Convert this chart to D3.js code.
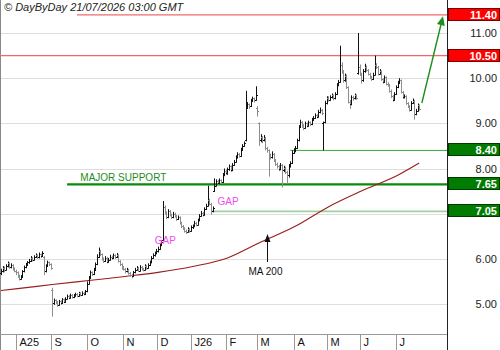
<!DOCTYPE html>
<html>
<head>
<meta charset="utf-8">
<script src="https://cdn.jsdelivr.net/npm/d3@7"></script>
<style>
  body { margin: 0; background: #fff; }
  svg { display: block; font-family: "Liberation Sans", Arial, sans-serif; }
</style>
</head>
<body>
<svg id="chart" width="500" height="350"></svg>
<script>
// daily bars [open, high, low, close], one array per month
const jul25 = [
  [5.68,5.78,5.64,5.72],[5.72,5.84,5.70,5.80],[5.80,5.83,5.70,5.76],[5.76,5.88,5.74,5.85],
  [5.85,5.94,5.81,5.90],[5.90,5.92,5.78,5.82],[5.82,5.90,5.79,5.86],[5.86,5.88,5.74,5.78],
  [5.78,5.81,5.70,5.74],[5.74,5.76,5.64,5.70]
];
const aug25 = [
  [5.70,5.72,5.58,5.62],[5.62,5.65,5.52,5.56],[5.56,5.64,5.54,5.60],[5.60,5.75,5.58,5.72],
  [5.72,5.85,5.70,5.82],[5.82,5.91,5.79,5.88],[5.88,5.95,5.84,5.92],[5.92,6.00,5.89,5.96],
  [5.96,6.06,5.93,6.02],[6.02,6.04,5.94,5.98],[5.98,6.08,5.96,6.05],[6.05,6.12,6.02,6.08],
  [6.08,6.10,6.00,6.03],[6.03,6.14,6.01,6.10],[6.10,6.12,6.02,6.06],[6.06,6.17,6.04,6.12],
  [6.04,6.06,5.64,5.72],[5.72,5.88,5.70,5.85],[5.85,5.96,5.83,5.92],[5.92,5.94,5.84,5.88],
  [5.88,5.90,5.76,5.80]
];
const sep25 = [
  [5.32,5.36,4.72,5.02],[5.02,5.12,4.98,5.08],[5.08,5.10,5.00,5.05],[5.05,5.07,4.94,4.98],
  [4.98,5.09,4.96,5.06],[5.06,5.08,4.98,5.02],[5.02,5.13,5.00,5.10],[5.10,5.12,5.02,5.05],
  [5.05,5.15,5.03,5.12],[5.12,5.21,5.10,5.18],[5.18,5.20,5.11,5.14],[5.14,5.23,5.12,5.20],
  [5.20,5.22,5.12,5.15],[5.15,5.22,5.13,5.19],[5.19,5.25,5.16,5.22],[5.22,5.24,5.15,5.18],
  [5.18,5.27,5.16,5.24],[5.24,5.26,5.17,5.20],[5.20,5.28,5.18,5.25],[5.25,5.27,5.19,5.22],
  [5.22,5.31,5.20,5.28],[5.28,5.50,5.26,5.45]
];
const oct25 = [
  [5.45,5.62,5.43,5.58],[5.58,5.74,5.56,5.70],[5.70,5.72,5.62,5.66],[5.66,5.80,5.64,5.76],
  [5.76,5.92,5.74,5.88],[5.88,6.10,5.86,6.05],[6.05,6.25,6.02,6.18],[6.18,6.20,6.06,6.10],
  [6.10,6.12,5.96,6.00],[6.00,6.03,5.91,5.95],[5.95,6.06,5.93,6.02],[6.02,6.04,5.90,5.94],
  [5.94,6.02,5.92,5.98],[5.98,6.09,5.96,6.05],[6.05,6.07,5.98,6.02],[6.02,6.12,6.00,6.08],
  [6.08,6.10,6.00,6.04],[6.04,6.13,6.02,6.08],[6.08,6.10,5.92,5.95],[5.95,5.97,5.84,5.88],
  [5.88,5.90,5.76,5.80],[5.80,5.84,5.74,5.78]
];
const nov25 = [
  [5.78,5.80,5.68,5.72],[5.72,5.80,5.70,5.76],[5.76,5.78,5.65,5.68],[5.68,5.71,5.61,5.65],
  [5.65,5.67,5.57,5.62],[5.62,5.73,5.60,5.70],[5.70,5.80,5.68,5.76],[5.76,5.84,5.74,5.80],
  [5.80,5.82,5.71,5.74],[5.74,5.86,5.72,5.82],[5.82,5.84,5.74,5.78],[5.78,5.80,5.72,5.76],
  [5.76,5.88,5.74,5.84],[5.84,5.86,5.76,5.80],[5.80,5.90,5.78,5.86],[5.86,5.96,5.84,5.92],
  [5.92,6.06,5.90,6.02],[6.02,6.12,6.00,6.08],[6.08,6.16,6.05,6.12],[6.12,6.22,6.10,6.18]
];
const dec25 = [
  [6.18,6.27,6.14,6.22],[6.22,6.34,6.20,6.30],[6.30,6.42,6.28,6.38],[6.42,7.28,6.40,7.15],
  [7.15,7.18,6.98,7.02],[7.02,7.05,6.88,6.92],[6.92,7.10,6.90,7.05],[7.05,7.08,6.94,6.98],
  [6.98,7.00,6.88,6.92],[6.92,7.04,6.90,7.00],[7.00,7.02,6.91,6.95],[6.95,6.97,6.84,6.88],
  [6.88,6.96,6.86,6.92],[6.92,6.94,6.76,6.80],[6.80,6.82,6.68,6.72],[6.72,6.75,6.64,6.68],
  [6.68,6.70,6.58,6.62],[6.62,6.65,6.55,6.60],[6.60,6.70,6.58,6.66],[6.66,6.68,6.58,6.62],
  [6.62,6.74,6.60,6.70]
];
const jan26 = [
  [6.70,6.76,6.66,6.72],[6.72,6.84,6.70,6.80],[6.80,6.82,6.72,6.76],[6.76,6.89,6.74,6.85],
  [6.85,6.99,6.83,6.95],[6.95,7.06,6.93,7.02],[7.02,7.04,6.94,6.98],[6.98,7.14,6.96,7.10],
  [7.10,7.22,7.08,7.18],[7.18,7.62,7.16,7.30],[7.30,7.33,7.18,7.22],[7.22,7.24,6.98,7.05],
  [7.05,7.16,7.03,7.12],[7.50,7.78,7.48,7.62],[7.62,7.76,7.60,7.72],[7.72,7.75,7.64,7.68],
  [7.68,7.78,7.66,7.74],[7.74,7.76,7.66,7.70],[7.70,7.90,7.68,7.85],[7.85,8.00,7.83,7.95],
  [7.95,7.98,7.86,7.90]
];
const feb26 = [
  [7.90,8.02,7.86,7.98],[7.98,8.09,7.95,8.05],[8.05,8.07,7.92,7.96],[7.96,8.12,7.94,8.08],
  [8.08,8.19,8.06,8.15],[8.15,8.29,8.13,8.25],[8.25,8.36,8.22,8.32],[8.32,8.34,8.24,8.28],
  [8.28,8.46,8.26,8.42],[8.42,8.54,8.40,8.50],[8.50,8.60,8.48,8.56],[8.62,9.72,8.60,9.35],
  [9.35,9.47,9.32,9.42],[9.42,9.44,9.32,9.38],[9.38,9.54,9.36,9.50],[9.50,9.59,9.47,9.55],
  [9.55,9.57,9.46,9.52],[9.52,9.82,9.50,9.62],[9.35,9.38,9.15,9.28]
];
const mar26 = [
  [9.00,9.02,8.50,8.62],[8.62,8.76,8.58,8.70],[8.70,8.72,8.56,8.62],[8.62,8.74,8.60,8.68],
  [8.68,8.70,8.40,8.45],[8.45,8.48,8.35,8.40],[8.40,8.42,7.82,8.30],[8.30,8.33,8.20,8.25],
  [8.25,8.38,8.22,8.32],[8.32,8.34,8.14,8.18],[8.18,8.21,8.06,8.10],[8.10,8.13,8.00,8.05],
  [8.05,8.08,7.94,7.98],[7.98,8.12,7.96,8.08],[8.08,8.10,7.58,7.96],[7.96,8.06,7.92,8.02],
  [8.02,8.04,7.88,7.92],[7.92,7.95,7.66,7.85],[7.85,8.10,7.80,8.05],[8.05,8.16,8.02,8.12],
  [8.12,8.40,8.10,8.35],[8.35,8.45,8.32,8.40]
];
const apr26 = [
  [8.40,8.50,8.36,8.45],[8.45,8.66,8.43,8.62],[8.62,8.96,8.60,8.92],[8.92,9.08,8.90,9.02],
  [9.02,9.05,8.90,8.95],[8.95,8.98,8.85,8.90],[8.90,9.04,8.88,9.00],[9.00,9.02,8.91,8.95],
  [8.95,9.06,8.93,9.02],[9.02,9.04,8.94,8.98],[8.98,9.12,8.96,9.08],[9.08,9.16,9.05,9.12],
  [9.12,9.22,9.10,9.18],[9.18,9.20,9.11,9.15],[9.15,9.30,9.13,9.25],[9.25,9.35,9.22,9.30],
  [9.30,9.32,9.18,9.22],[9.00,9.04,8.40,9.02],[9.02,9.50,9.00,9.45],[9.45,9.60,9.42,9.55]
];
const may26 = [
  [9.55,9.60,9.48,9.52],[9.52,9.62,9.50,9.58],[9.58,9.66,9.55,9.62],[9.62,9.64,9.51,9.55],
  [9.55,9.69,9.53,9.65],[9.65,9.89,9.63,9.85],[9.85,9.96,9.82,9.92],[9.92,10.72,9.90,10.30],
  [10.30,10.35,10.10,10.15],[10.15,10.18,9.90,9.95],[9.95,10.10,9.92,10.05],[10.05,10.08,9.76,9.80],
  [9.80,9.82,9.44,9.48],[9.48,9.52,9.32,9.42],[9.42,9.62,9.40,9.58],[9.58,9.61,9.50,9.55],
  [9.55,9.66,9.53,9.62],[9.62,9.64,9.52,9.55],[10.12,11.00,10.08,10.25],[10.25,10.30,10.05,10.10]
];
const jun26 = [
  [10.10,10.12,9.88,9.95],[9.95,10.20,9.92,10.15],[10.15,10.32,10.12,10.25],[10.25,10.28,10.14,10.18],
  [10.18,10.20,10.06,10.10],[10.10,10.12,9.98,10.02],[10.02,10.05,9.94,9.98],[9.98,10.12,9.96,10.08],
  [10.08,10.50,10.06,10.30],[10.30,10.33,10.20,10.25],[10.25,10.27,10.06,10.10],[10.10,10.20,10.08,10.15],
  [10.15,10.17,9.94,9.98],[9.98,10.00,9.88,9.92],[9.92,10.06,9.90,10.02],[10.02,10.04,9.84,9.88],
  [9.88,9.91,9.81,9.85],[9.85,9.87,9.68,9.72],[9.72,9.75,9.56,9.60],[9.60,9.63,9.48,9.52],
  [9.52,9.69,9.50,9.65],[9.65,9.84,9.63,9.80]
];
const jul26 = [
  [9.80,9.94,9.78,9.90],[9.90,10.00,9.87,9.95],[9.95,9.97,9.66,9.70],[9.70,9.72,9.54,9.58],
  [9.58,9.64,9.55,9.60],[9.60,9.62,9.41,9.45],[9.45,9.47,9.34,9.38],[9.38,9.40,9.26,9.30],
  [9.30,9.49,9.28,9.45],[9.45,9.55,9.43,9.50],[9.50,9.52,9.08,9.20],[9.20,9.32,9.18,9.28],
  [9.28,9.44,9.26,9.40],[9.40,9.42,9.28,9.32]
];

const monthBars = [jul25, aug25, sep25, oct25, nov25, dec25, jan26, feb26, mar26, apr26, may26, jun26, jul26];
const monthLabels = ["", "A25", "S", "O", "N", "D", "J26", "F", "M", "A", "M", "J", "J"];

// 200-day moving average at the first bar of each month, then at the last bar
const ma200 = [5.30, 5.34, 5.43, 5.52, 5.61, 5.70, 5.83, 6.02, 6.35, 6.72, 7.15, 7.50, 7.85, 8.12];

const yTicks = [5, 6, 7, 8, 9, 10, 11];
const resistances = [11.40, 10.50];
const supports = [8.40, 7.65, 7.05];
const targetFrom = 9.45, targetTo = 11.37;
const stamp = "\u00a9 DayByDay 21/07/2026 03:00 GMT";

const plot = { left: 0, right: 447, top: 0, bottom: 334 };

// flatten months into one series of trading days
let bars = [];
let monthStart = [];
monthBars.forEach(m => {
  monthStart.push(bars.length);
  m.forEach(b => bars.push(b));
});
const n = bars.length;

const x = d3.scaleLinear().domain([0, n - 1]).range([1, 1 + (n - 1) * 1.653]);
const y = d3.scaleLinear().domain([5, 11]).range([304, 33]);

const svg = d3.select("#chart");

// grid
svg.append("g")
   .selectAll("line")
   .data(yTicks)
   .join("line")
   .attr("x1", plot.left).attr("x2", plot.right)
   .attr("y1", d => Math.round(y(d)) + 0.5).attr("y2", d => Math.round(y(d)) + 0.5)
   .attr("stroke", "#dedede");

// frame
svg.append("line").attr("x1", 0.5).attr("x2", 0.5).attr("y1", 0).attr("y2", 350).attr("stroke", "#888");
svg.append("line").attr("x1", 0).attr("x2", plot.right).attr("y1", plot.bottom + 0.5).attr("y2", plot.bottom + 0.5).attr("stroke", "#999");

// month separators and labels
const months = svg.append("g").attr("class", "months");
monthLabels.forEach((lab, k) => {
  if (!lab) return;
  let sx = Math.round(x(monthStart[k]) - 1.5) + 0.5;
  months.append("line")
        .attr("x1", sx).attr("x2", sx)
        .attr("y1", plot.bottom).attr("y2", 350)
        .attr("stroke", "#999");
  months.append("text")
        .attr("x", sx + 3).attr("y", 346)
        .attr("font-size", 11).attr("fill", "#111")
        .text(lab);
});

// right price axis; labels hidden under a level box are dropped
const levels = resistances.concat(supports);
const shownTicks = yTicks.filter(t => levels.every(v => Math.abs(y(t) - y(v)) > 11));
const yAxis = d3.axisRight(y).tickValues(shownTicks).tickFormat(d3.format(".2f")).tickSize(0);
const ax = svg.append("g").attr("transform", `translate(${plot.right},0)`).call(yAxis);
ax.select(".domain").remove();
ax.selectAll("text")
  .attr("x", 50).attr("text-anchor", "end")
  .attr("font-family", "Liberation Sans, Arial, sans-serif")
  .attr("font-size", 11).attr("fill", "#222");
svg.append("line").attr("x1", plot.right + 0.5).attr("x2", plot.right + 0.5).attr("y1", 0).attr("y2", 350).attr("stroke", "#222");

// horizontal levels
const levelStyle = [
  { v: resistances[0], from: 46, color: "#ee6a6a", w: 1.3 },
  { v: resistances[1], from: 0, color: "#ee6a6a", w: 1.3 },
  { v: supports[0], from: 175, color: "#3aa83a", w: 1 },
  { v: supports[1], from: 40, color: "#0a8a0a", w: 2.2 },
  { v: supports[2], from: 127, color: "#9fd09f", w: 1.6 }
];
svg.append("g")
   .selectAll("line")
   .data(levelStyle)
   .join("line")
   .attr("x1", d => d.from === 0 ? 0 : x(d.from)).attr("x2", plot.right)
   .attr("y1", d => y(d.v)).attr("y2", d => y(d.v))
   .attr("stroke", d => d.color).attr("stroke-width", d => d.w);

// moving average
const maIdx = monthStart.concat([n - 1]);
const maLine = d3.line().x((d, i) => x(maIdx[i])).y(d => y(d)).curve(d3.curveMonotoneX);
svg.append("path").datum(ma200)
   .attr("d", maLine).attr("fill", "none")
   .attr("stroke", "#9b1c1c").attr("stroke-width", 1.1);

// OHLC bars
const barG = svg.append("g").attr("class", "bars");
bars.forEach((b, i) => {
  let [o, h, l, c] = b;
  let bx = Math.round(x(i)) + 0.5;
  let col = c >= o ? "#111" : "#8c8c8c";
  barG.append("line").attr("x1", bx).attr("x2", bx).attr("y1", y(h)).attr("y2", y(l)).attr("stroke", col);
  barG.append("line").attr("x1", bx - 1.5).attr("x2", bx).attr("y1", Math.round(y(o)) + 0.5).attr("y2", Math.round(y(o)) + 0.5).attr("stroke", col);
  barG.append("line").attr("x1", bx).attr("x2", bx + 1.5).attr("y1", Math.round(y(c)) + 0.5).attr("y2", Math.round(y(c)) + 0.5).attr("stroke", col);
});

// annotations
const ann = svg.append("g").attr("font-size", 10);
ann.append("text").attr("x", x(48)).attr("y", y(7.65) - 3.5).attr("fill", "#1e8c1e").text("MAJOR SUPPORT");
ann.append("text").attr("x", x(131)).attr("y", y(7.05) - 6).attr("fill", "#f04cf0").text("GAP");
ann.append("text").attr("x", x(93)).attr("y", y(6.42) + 4).attr("fill", "#f04cf0").text("GAP");

// MA 200 arrow
const maX = Math.round(x(161)) + 0.5;
const maTip = y(6.55);
ann.append("line").attr("x1", maX).attr("x2", maX).attr("y1", maTip + 6).attr("y2", maTip + 28).attr("stroke", "#111").attr("stroke-width", 1);
ann.append("path").attr("d", `M${maX},${maTip} L${maX - 3},${maTip + 8} L${maX + 3},${maTip + 8} Z`).attr("fill", "#111");
ann.append("text").attr("x", maX - 2).attr("y", maTip + 41).attr("text-anchor", "middle").attr("fill", "#111").text("MA 200");

// target arrow
const ax1 = x(n) + 1, ay1 = y(targetFrom);
const ax2 = plot.right - 4, ay2 = y(targetTo);
const ang = Math.atan2(ay2 - ay1, ax2 - ax1);
const hl = 9, hw = 4;
const bxp = ax2 - hl * Math.cos(ang), byp = ay2 - hl * Math.sin(ang);
ann.append("line").attr("x1", ax1).attr("y1", ay1).attr("x2", bxp).attr("y2", byp)
   .attr("stroke", "#1a8f1a").attr("stroke-width", 1.4);
ann.append("path")
   .attr("d", `M${ax2},${ay2} L${bxp + hw * Math.sin(ang)},${byp - hw * Math.cos(ang)} L${bxp - hw * Math.sin(ang)},${byp + hw * Math.cos(ang)} Z`)
   .attr("fill", "#1a8f1a");

// level boxes on the axis
const boxes = resistances.map(v => ({ v, fill: "#ff0000", edge: "#7a0000" }))
  .concat(supports.map(v => ({ v, fill: "#007c00", edge: "#003a00" })));
const bg = svg.append("g");
boxes.forEach(d => {
  let cy = Math.round(y(d.v));
  bg.append("rect").attr("x", plot.right + 1.5).attr("y", cy - 6.5).attr("width", 51).attr("height", 12)
    .attr("fill", d.fill).attr("stroke", d.edge).attr("stroke-width", 1);
  bg.append("text").attr("x", 497).attr("y", cy + 4).attr("text-anchor", "end")
    .attr("font-size", 11).attr("font-weight", "bold").attr("fill", "#fff")
    .text(d3.format(".2f")(d.v));
});

// stamp
svg.append("text").attr("x", 4).attr("y", 11)
   .attr("font-size", 11).attr("font-style", "italic").attr("fill", "#222")
   .text(stamp);
</script>
</body>
</html>
